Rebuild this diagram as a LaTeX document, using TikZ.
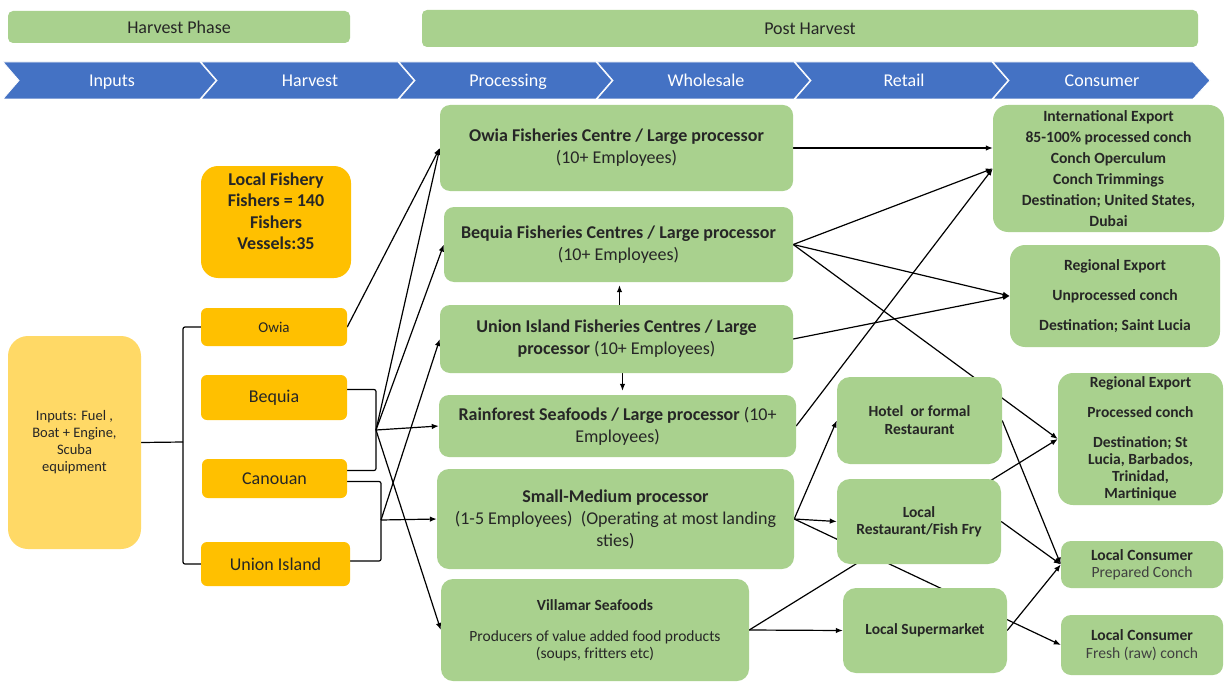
\documentclass[tikz,border=0pt]{standalone}
\usepackage{fontspec}
\setmainfont{Carlito}
\usetikzlibrary{arrows.meta,backgrounds,calc}
\definecolor{gboxc}{HTML}{A9D18E}
\definecolor{oboxc}{HTML}{FFC000}
\definecolor{yboxc}{HTML}{FFD966}
\definecolor{chevc}{HTML}{4472C4}
\definecolor{txtc}{HTML}{262626}
\definecolor{subc}{HTML}{404040}
\newcommand{\fsz}[2]{\fontsize{#1}{#2}\selectfont}
\begin{document}
\begin{tikzpicture}[x=1pt,y=-1pt,
  basebox/.style={rectangle, inner sep=0pt, align=center, text=txtc},
  sz/.style 2 args={minimum width=#1, minimum height=#2},
  greenbox/.style={basebox, fill=gboxc, rounded corners=#1},
  orangebox/.style={basebox, fill=oboxc, rounded corners=#1},
  chevlabel/.style={text=white, font=\fsz{18}{21}, anchor=base},
  ln/.style={draw=black, line width=1.2pt},
  arr/.style={ln, -{Latex[length=7pt,width=5.5pt]}},
  chevshape/.style={fill=chevc, draw=white, line width=0.8pt},
]
\useasboundingbox (0,0) rectangle (1225,682);
\begin{scope}[on background layer]
  \fill[white] (0,0) rectangle (1225,682);
\end{scope}

% phase bars
\node[greenbox=5pt, sz={342}{32}, font=\fsz{18}{21}] (harvestPhase) at (179,27) {Harvest Phase};
\node[greenbox=5pt, sz={776}{37}, font=\fsz{18}{21}] (postHarvest) at (810,28.5) {Post Harvest};

% chevron band
\foreach \k in {0,...,4}{
  \pgfmathsetmacro{\xb}{3+198*\k}
  \path[chevshape] (\xb,62) -- ({\xb+197},62) -- ({\xb+213},80.5) -- ({\xb+197},99) -- (\xb,99) -- ({\xb+16},80.5) -- cycle;
}
\path[chevshape] (993,62) -- (1193,62) -- (1210,80.5) -- (1193,99) -- (993,99) -- (1009,80.5) -- cycle;
\node[chevlabel] (cInputs) at (112,86.5) {Inputs};
\node[chevlabel] (cHarvest) at (310,86.5) {Harvest};
\node[chevlabel] (cProcessing) at (508,86.5) {Processing};
\node[chevlabel] (cWholesale) at (706,86.5) {Wholesale};
\node[chevlabel] (cRetail) at (904,86.5) {Retail};
\node[chevlabel] (cConsumer) at (1102,86.5) {Consumer};

% inputs and harvest
\node[basebox, fill=yboxc, rounded corners=20pt, sz={133}{213}, font=\fsz{14.5}{17}] (inputs) at (74.5,442.5)
  {Inputs: Fuel ,\\Boat + Engine,\\Scuba\\equipment};
\node[orangebox=17pt, sz={150}{112}, font=\fsz{18}{21.6}\bfseries] (fishery) at (276,222)
  {Local Fishery\\Fishers = 140\\Fishers\\Vessels:35\\~};
\node[orangebox=6pt, sz={146}{38}, font=\fsz{15}{18}] (owia) at (274,327) {Owia};
\node[orangebox=6pt, sz={146}{45}, font=\fsz{18}{21}] (bequia) at (274,397.5) {Bequia};
\node[orangebox=6pt, sz={145}{39}, font=\fsz{18}{21}] (canouan) at (274.5,478.5) {Canouan};
\node[orangebox=6pt, sz={149}{44}, font=\fsz{18}{21}] (union) at (275.5,564) {Union Island};

\coordinate (lb) at (183,442);
\coordinate (b1) at (376,430);
\coordinate (b2) at (381,520);

% processing
\node[greenbox=10pt, sz={353}{86}, font=\fsz{18}{22}] (owiaP) at (616.5,148)
  {{\bfseries Owia Fisheries Centre / Large processor}\\(10+ Employees)};
\node[greenbox=10pt, sz={349}{75}, font=\fsz{18}{22}] (bequiaP) at (618.5,244.5)
  {{\bfseries Bequia Fisheries Centres / Large processor}\\(10+ Employees)};
\node[greenbox=10pt, sz={353}{68}, font=\fsz{18}{22}] (unionP) at (616.5,339)
  {{\bfseries Union Island Fisheries Centres / Large}\\{\bfseries processor} (10+ Employees)};
\node[greenbox=10pt, sz={357}{62}, font=\fsz{18}{22}] (rainP) at (617.5,426)
  {{\bfseries Rainforest Seafoods / Large processor} (10+\\Employees)};
\node[greenbox=12pt, sz={357}{100}, font=\fsz{18}{22}] (smallP) at (615.5,519)
  {{\bfseries Small-Medium processor}\\(1-5 Employees)~~(Operating at most landing\\sties)};
\node[greenbox=12pt, sz={308}{102}, font=\fsz{15.5}{17}] (villaP) at (595,630)
  {{\fsz{15.5}{17}\bfseries Villamar Seafoods}\\[14pt]Producers of value added food products\\(soups, fritters etc)};

% retail
\node[greenbox=13pt, sz={165}{87}, font=\fsz{15.5}{18}\bfseries] (hotel) at (919.5,420.5)
  {Hotel~~or formal\\Restaurant};
\node[greenbox=13pt, sz={164}{85}, font=\fsz{15.5}{17}\bfseries] (localR) at (919,521.5)
  {Local\\Restaurant/Fish Fry};
\node[greenbox=13pt, sz={164}{85}, font=\fsz{15.5}{18}\bfseries] (superM) at (925,630.5)
  {Local Supermarket};

% consumer
\node[greenbox=15pt, sz={231}{127}, font=\fsz{15.6}{21}\bfseries] (intl) at (1108.5,168.5)
  {International Export\\85-100\% processed conch\\Conch Operculum\\Conch Trimmings\\Destination; United States,\\Dubai};
\node[greenbox=15pt, sz={210}{102}, font=\fsz{15.6}{30}\bfseries] (regU) at (1115,296)
  {Regional Export\\Unprocessed conch\\Destination; Saint Lucia};
\node[greenbox=15pt, sz={165}{132}, font=\fsz{15.5}{17}\bfseries] (regP) at (1140.5,439)
  {Regional Export\\[13pt]Processed conch\\[13pt]Destination; St\\Lucia, Barbados,\\Trinidad,\\Martinique};
\node[greenbox=10pt, sz={162}{47}, font=\fsz{15.6}{17}] (prep) at (1142,564.5)
  {{\bfseries Local Consumer}\\{\color{subc}Prepared Conch}};
\node[greenbox=10pt, sz={162}{60}, font=\fsz{15.6}{18}] (fresh) at (1142,645)
  {{\bfseries Local Consumer}\\{\color{subc}Fresh (raw) conch}};

% connectors
\begin{scope}[on background layer]
  \draw[ln] (inputs.east) -- (lb);
  \draw[ln, rounded corners=2pt] (owia.west) -| (lb) |- (union.west);
  \draw[ln, rounded corners=2pt] ([yshift=8pt]bequia.east) -| (b1) |- ([yshift=8pt]canouan.east);
  \draw[ln, rounded corners=2pt] ([yshift=-3pt]canouan.east) -| (b2) |- ([yshift=3pt]union.east);

  \draw[arr] (owia.east) -- (owiaP.west);
  \draw[arr] (b1) -- (owiaP.west);
  \draw[arr] (b1) -- (bequiaP.west);
  \draw[arr] (b1) -- (rainP.west);
  \draw[arr] (b1) -- (villaP.west);
  \draw[arr] (b2) -- (unionP.west);
  \draw[arr] (b2) -- (smallP.west);

  \draw[arr, shorten >=3pt] ([xshift=3pt]unionP.north) -- ([xshift=3pt]unionP.north |- bequiaP.south);
  \draw[arr, shorten >=4pt] ([xshift=6pt]unionP.south) -- ([xshift=6pt]unionP.south |- rainP.north);

  \draw[arr] (owiaP.east) -- (owiaP.east -| intl.west);
  \draw[arr] (bequiaP.east) -- (intl.west);
  \draw[arr] (rainP.east) -- (intl.west);
  \draw[arr] (bequiaP.east) -- (regU.west);
  \draw[arr] (unionP.east) -- (regU.west);
  \draw[arr] (bequiaP.east) -- (regP.west);

  \draw[arr] (smallP.east) -- (hotel.west);
  \draw[arr] (smallP.east) -- (localR.west);
  \draw[arr] (smallP.east) -- (fresh.west);
  \draw[arr] (villaP.east) -- (superM.west);
  \draw[arr] (villaP.east) -- (regP.west);

  \draw[arr] (hotel.east) -- (prep.west);
  \draw[arr] (localR.east) -- (prep.west);
  \draw[arr] (superM.east) -- (prep.west);
\end{scope}
\end{tikzpicture}
\end{document}
